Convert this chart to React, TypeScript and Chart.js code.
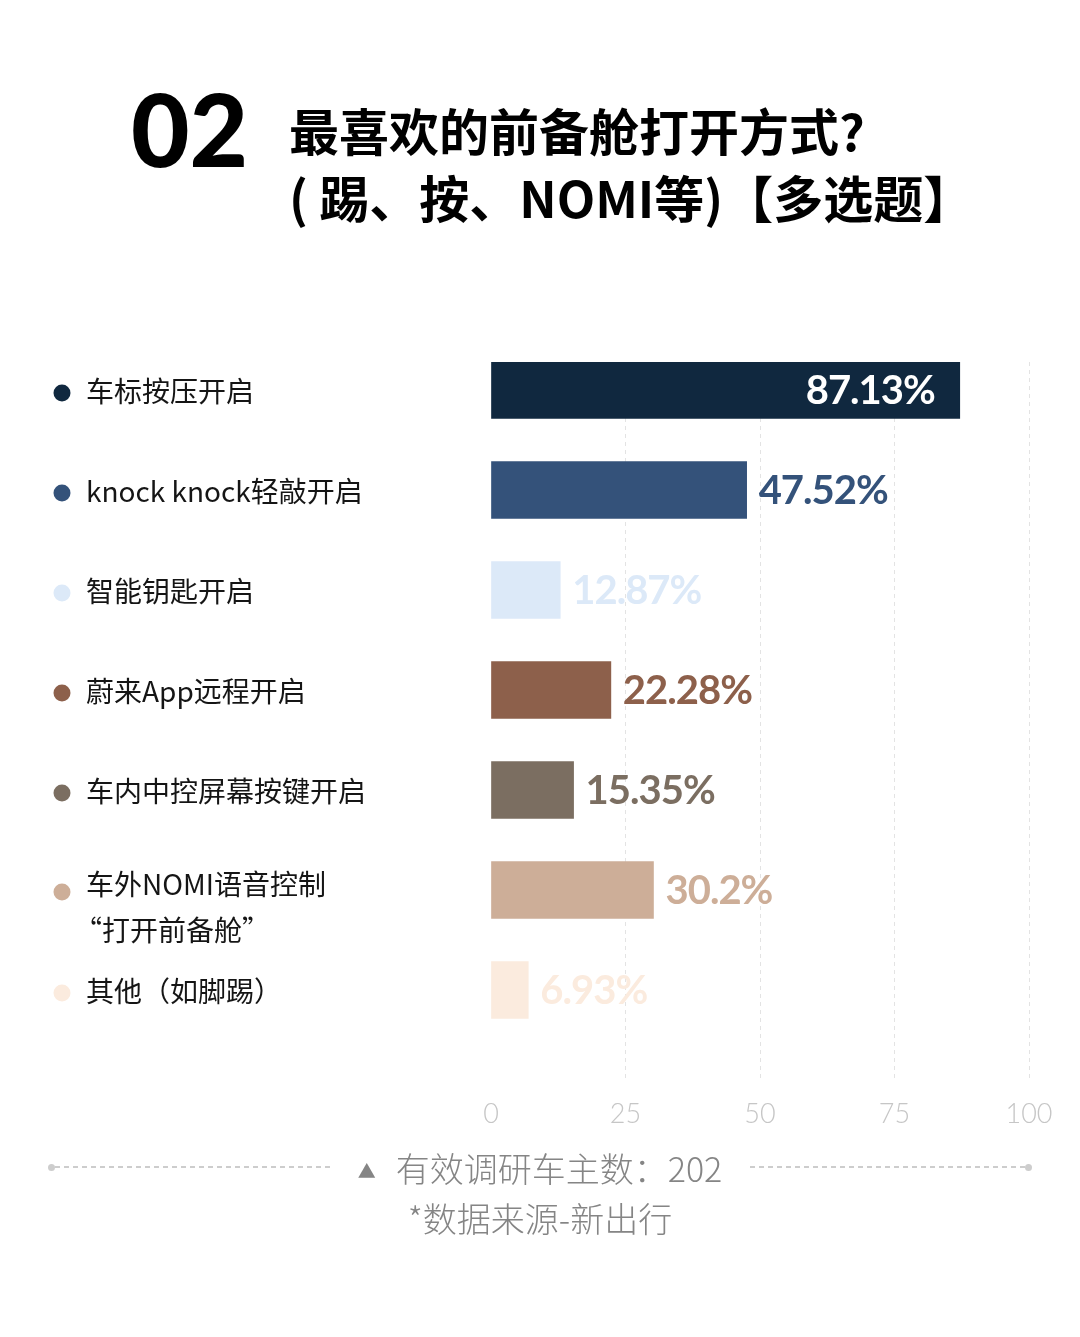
import { useEffect, useRef } from 'react';
import { Chart, registerables } from 'chart.js';

Chart.register(...registerables);

const categories: (string | string[])[] = [
  '车标按压开启',
  'knock knock轻敲开启',
  '智能钥匙开启',
  '蔚来App远程开启',
  '车内中控屏幕按键开启',
  ['车外NOMI语音控制', '“打开前备舱”'],
  '其他（如脚踢）',
];
const values = [87.13, 47.52, 12.87, 22.28, 15.35, 30.2, 6.93];
const valueLabels = ['87.13%', '47.52%', '12.87%', '22.28%', '15.35%', '30.2%', '6.93%'];
const barColors = ['#10283f', '#34527a', '#dce9f8', '#8d604b', '#7b6e61', '#cdae98', '#fbebde'];
const valueColors = ['#ffffff', '#34527a', '#dce9f8', '#8d604b', '#7b6e61', '#cdae98', '#fbebde'];
const xTicks = [0, 25, 50, 75, 100];

const CANVAS_TOP = 300;

// category names + dots on the left, one per bar row
const leftLabels = {
  id: 'leftLabels',
  afterDraw(chart: any) {
    const { ctx } = chart;
    const yScale = chart.scales.y;
    ctx.save();
    ctx.font = '28px "Noto Sans CJK SC"';
    ctx.textBaseline = 'middle';
    ctx.textAlign = 'left';
    categories.forEach((c, i) => {
      const cy = yScale.getPixelForValue(i);
      const lines = Array.isArray(c) ? c : [c];
      const firstY = lines.length > 1 ? cy - 6 : cy + 1;
      ctx.fillStyle = barColors[i];
      ctx.beginPath();
      ctx.arc(62, lines.length > 1 ? cy + 2 : cy + 3, 8.5, 0, Math.PI * 2);
      ctx.fill();
      ctx.fillStyle = '#151515';
      lines.forEach((l, k) => {
        // full-width opening quote has its glyph on the right half
        const x = l.startsWith('“') ? 74 : 86;
        ctx.fillText(l, x, firstY + k * 46);
      });
    });
    ctx.restore();
  },
};

// percentage text at the end of each bar
const valueText = {
  id: 'valueText',
  afterDatasetsDraw(chart: any) {
    const { ctx } = chart;
    const meta = chart.getDatasetMeta(0);
    ctx.save();
    ctx.font = 'bold 40px Lato';
    (ctx as any).letterSpacing = '-1px';
    ctx.textBaseline = 'middle';
    meta.data.forEach((bar: any, i: number) => {
      ctx.fillStyle = valueColors[i];
      if (i === 0) {
        ctx.textAlign = 'right';
        ctx.fillText(valueLabels[i], bar.x - 25, bar.y + 1);
      } else {
        ctx.textAlign = 'left';
        ctx.fillText(valueLabels[i], bar.x + 12, bar.y + 1);
      }
    });
    ctx.restore();
  },
};

export default function App() {
  const canvasRef = useRef<HTMLCanvasElement>(null);
  const chartRef = useRef<Chart | null>(null);

  useEffect(() => {
    if (!canvasRef.current) return;
    if (chartRef.current) chartRef.current.destroy();

    chartRef.current = new Chart(canvasRef.current, {
      type: 'bar',
      data: {
        datasets: [
          {
            data: values.map((v, i) => ({ x: v, y: i })) as any,
            backgroundColor: barColors,
            borderWidth: 0,
            barThickness: 57,
          },
        ],
      },
      options: {
        indexAxis: 'y',
        animation: false,
        responsive: true,
        maintainAspectRatio: false,
        layout: { padding: { left: 491, right: 51, top: 62, bottom: 0 } },
        plugins: {
          legend: { display: false },
          tooltip: { enabled: false },
        },
        scales: {
          x: {
            type: 'linear',
            min: 0,
            max: 100,
            afterBuildTicks: (scale: any) => {
              scale.ticks = xTicks.map((v) => ({ value: v }));
            },
            afterFit: (scale: any) => {
              scale.height = 80;
            },
            grid: {
              color: (c: any) => (c.tick && c.tick.value === 0 ? 'rgba(0,0,0,0)' : '#e3e3e3'),
              lineWidth: 1,
              drawTicks: false,
            },
            border: { display: false, dash: [4, 4] },
            ticks: {
              color: '#c6c6c6',
              padding: 18,
              font: { family: 'Lato', size: 27, weight: 300 as any },
            },
          },
          y: {
            type: 'linear',
            display: false,
            reverse: true,
            offset: false,
            grid: { offset: false },
            min: -0.28,
            max: 6.9,
          },
        },
      },
      plugins: [leftLabels, valueText],
    });

    return () => {
      if (chartRef.current) {
        chartRef.current.destroy();
        chartRef.current = null;
      }
    };
  }, []);

  const dash = 'repeating-linear-gradient(to right, #cdcdcd 0 5px, transparent 5px 9px)';

  return (
    <div
      style={{
        position: 'absolute',
        left: 0,
        top: 0,
        width: 1080,
        height: 1337,
        background: '#ffffff',
        fontFamily: '"Noto Sans CJK SC", "Noto Sans", sans-serif',
        overflow: 'hidden',
      }}
    >
      <div
        style={{
          position: 'absolute',
          left: 131,
          top: 78,
          fontFamily: 'Lato',
          fontWeight: 900,
          fontSize: 101,
          lineHeight: 1,
          color: '#000',
        }}
      >
        02
      </div>
      <div
        style={{
          position: 'absolute',
          left: 289,
          top: 96,
          fontWeight: 700,
          fontSize: 50,
          lineHeight: '67px',
          color: '#000',
          whiteSpace: 'nowrap',
        }}
      >
        <div>最喜欢的前备舱打开方式?</div>
        <div>( 踢、按、NOMI等)【多选题】</div>
      </div>

      <div style={{ position: 'absolute', left: 0, top: CANVAS_TOP, width: 1080, height: 860 }}>
        <canvas ref={canvasRef} />
      </div>

      <div
        style={{
          position: 'absolute',
          left: 48,
          width: 984,
          top: 1147,
          height: 40,
          display: 'flex',
          alignItems: 'center',
        }}
      >
        <div style={{ width: 7, height: 7, borderRadius: '50%', background: '#cdcdcd' }} />
        <div style={{ flex: 1, height: 1.5, background: dash }} />
        <div style={{ margin: '0 28px', color: '#858585', fontSize: 34, fontWeight: 300, whiteSpace: 'nowrap' }}>
          <span style={{ fontSize: 18, marginRight: 20, position: 'relative', top: -4 }}>▲</span>
          有效调研车主数：202
        </div>
        <div style={{ flex: 1, height: 1.5, background: dash }} />
        <div style={{ width: 7, height: 7, borderRadius: '50%', background: '#cdcdcd' }} />
      </div>
      <div
        style={{
          position: 'absolute',
          left: 0,
          width: 1080,
          top: 1195,
          textAlign: 'center',
          color: '#858585',
          fontSize: 34,
          fontWeight: 300,
          lineHeight: '46px',
        }}
      >
        *数据来源-新出行
      </div>
    </div>
  );
}
